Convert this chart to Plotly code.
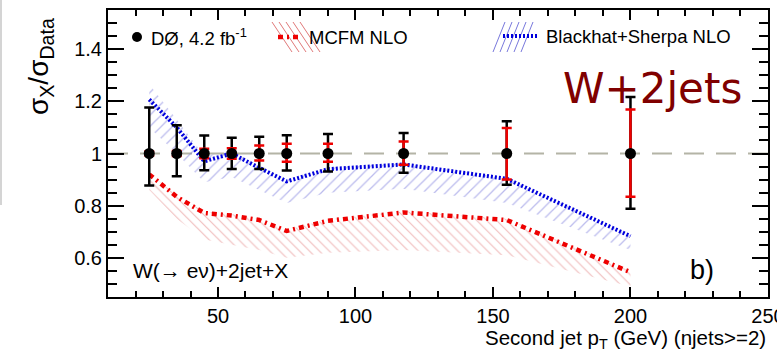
import plotly.graph_objects as go

# ---------------- data ----------------
pt = [25, 35, 45, 55, 65, 75, 90, 117.5, 155, 200]
data_ratio = [1, 1, 1, 1, 1, 1, 1, 1, 1, 1]
tot_up = [0.176, 0.108, 0.069, 0.060, 0.064, 0.070, 0.075, 0.079, 0.124, 0.217]
tot_dn = [0.123, 0.087, 0.064, 0.059, 0.059, 0.065, 0.069, 0.074, 0.120, 0.212]
stat_up = [0.008, 0.010, 0.018, 0.020, 0.031, 0.037, 0.037, 0.046, 0.098, 0.169]
stat_dn = [0.008, 0.010, 0.018, 0.020, 0.027, 0.032, 0.032, 0.043, 0.100, 0.166]

mcfm = [0.920, 0.834, 0.772, 0.762, 0.745, 0.703, 0.742, 0.774, 0.745, 0.545]
mcfm_hi = [0.925, 0.840, 0.778, 0.768, 0.750, 0.708, 0.747, 0.779, 0.750, 0.550]
mcfm_lo = [0.860, 0.750, 0.670, 0.650, 0.630, 0.600, 0.620, 0.630, 0.610, 0.490]

bh = [1.207, 1.100, 0.970, 1.000, 0.945, 0.893, 0.940, 0.958, 0.903, 0.683]
bh_hi = [1.265, 1.130, 0.990, 1.010, 0.955, 0.900, 0.945, 0.962, 0.906, 0.686]
bh_lo = [1.100, 1.000, 0.890, 0.910, 0.860, 0.810, 0.850, 0.865, 0.810, 0.630]

x_ticks = [50, 100, 150, 200, 250]
y_ticks = [0.6, 0.8, 1.0, 1.2, 1.4]
y_tick_text = ["0.6", "0.8", "1", "1.2", "1.4"]

# ---------------- layout geometry ----------------
W, H = 777, 358
ML, MR, MT, MB = 108, 9, 10, 61
PW, PH = W - ML - MR, H - MT - MB


def pxx(x):
    return (x - ML) / PW


def pxy(y):
    return (H - MB - y) / PH


FONT = "Liberation Sans, Arial, sans-serif"
RED_HATCH = "#e07878"
BLUE_HATCH = "#7878dc"

fig = go.Figure()

# bands
fig.add_trace(go.Scatter(x=pt, y=mcfm_lo, mode="lines", line=dict(width=0), showlegend=False, hoverinfo="skip"))
fig.add_trace(go.Scatter(x=pt, y=mcfm_hi, mode="lines", line=dict(width=0), fill="tonexty",
                         fillcolor="rgba(0,0,0,0)",
                         fillpattern=dict(shape="\\", fgcolor=RED_HATCH, bgcolor="rgba(0,0,0,0)",
                                          size=7, solidity=0.16),
                         showlegend=False, hoverinfo="skip"))
fig.add_trace(go.Scatter(x=pt, y=bh_lo, mode="lines", line=dict(width=0), showlegend=False, hoverinfo="skip"))
fig.add_trace(go.Scatter(x=pt, y=bh_hi, mode="lines", line=dict(width=0), fill="tonexty",
                         fillcolor="rgba(0,0,0,0)",
                         fillpattern=dict(shape="/", fgcolor=BLUE_HATCH, bgcolor="rgba(0,0,0,0)",
                                          size=8, solidity=0.16),
                         showlegend=False, hoverinfo="skip"))

# central lines
fig.add_trace(go.Scatter(x=pt, y=mcfm, mode="lines",
                         line=dict(color="#ee0000", width=4.5, dash="5px,4px,2px,4px"),
                         showlegend=False, hoverinfo="skip"))
fig.add_trace(go.Scatter(x=pt, y=bh, mode="lines",
                         line=dict(color="#0000dd", width=4, dash="2px,2px"),
                         showlegend=False, hoverinfo="skip"))

# data error bars
fig.add_trace(go.Scatter(x=pt, y=data_ratio, mode="markers", marker=dict(size=1, color="black"),
                         error_y=dict(type="data", symmetric=False, array=tot_up, arrayminus=tot_dn,
                                      color="black", thickness=2.5, width=5),
                         showlegend=False, hoverinfo="skip"))
fig.add_trace(go.Scatter(x=pt, y=data_ratio, mode="markers", marker=dict(size=1, color="#ee0000"),
                         error_y=dict(type="data", symmetric=False, array=stat_up, arrayminus=stat_dn,
                                      color="#ee0000", thickness=2.5, width=5),
                         showlegend=False, hoverinfo="skip"))
fig.add_trace(go.Scatter(x=pt, y=data_ratio, mode="markers", marker=dict(size=11, color="black"),
                         showlegend=False, hoverinfo="skip"))

shapes = []
# dashed unity line
shapes.append(dict(type="line", xref="paper", yref="y", x0=0, x1=1, y0=1, y1=1,
                   line=dict(color="#b4b4a6", width=2, dash="20px,12px"), layer="below"))
# gray artifact at left edge
shapes.append(dict(type="line", xref="paper", yref="paper", x0=pxx(1), x1=pxx(1), y0=pxy(0), y1=pxy(205),
                   line=dict(color="#d4d4d4", width=2)))

# legend: data dot
shapes.append(dict(type="circle", xref="paper", yref="paper", x0=pxx(132), x1=pxx(142), y0=pxy(32), y1=pxy(42),
                   fillcolor="black", line=dict(color="black", width=0)))
# legend: MCFM hatch + line
for i in range(5):
    x0 = 272 + i * 7
    shapes.append(dict(type="line", xref="paper", yref="paper", x0=pxx(x0), x1=pxx(x0 + 20),
                       y0=pxy(22), y1=pxy(52), line=dict(color=RED_HATCH, width=1)))
shapes.append(dict(type="line", xref="paper", yref="paper", x0=pxx(278), x1=pxx(298), y0=pxy(37), y1=pxy(37),
                   line=dict(color="#ee0000", width=4.5, dash="5px,4px,2px,4px")))
# legend: Blackhat hatch + line
for i in range(5):
    x0 = 505 + i * 7
    shapes.append(dict(type="line", xref="paper", yref="paper", x0=pxx(x0), x1=pxx(x0 - 12),
                       y0=pxy(22), y1=pxy(52), line=dict(color=BLUE_HATCH, width=1)))
shapes.append(dict(type="line", xref="paper", yref="paper", x0=pxx(503), x1=pxx(537), y0=pxy(36), y1=pxy(36),
                   line=dict(color="#0000dd", width=4, dash="2px,2px")))

annotations = []


def ann(text, x, y, size, xanchor="left", color="black", family=FONT, angle=0):
    annotations.append(dict(text=text, xref="paper", yref="paper", x=pxx(x), y=pxy(y), xanchor=xanchor,
                            yanchor="middle", showarrow=False, textangle=angle,
                            font=dict(size=size, color=color, family=family)))


ann("DØ, 4.2 fb<sup>-1</sup>", 149, 37, 18.5)
ann("MCFM NLO", 307, 37, 18.5)
ann("Blackhat+Sherpa NLO", 544, 36, 18.5)
ann("W+2jets", 561, 88, 42, color="#800000", family="DejaVu Sans, sans-serif")
ann("W(→ eν)+2jet+X", 131, 270, 21)
ann("b)", 688, 270, 27)
ann("Second jet p<sub>T</sub> (GeV) (njets>=2)", 768, 339, 20.5, xanchor="right")
annotations.append(dict(text="σ<sub>X</sub>/σ<sub>Data</sub>", xref="paper", yref="paper",
                        x=pxx(40), y=pxy(67), xanchor="center", yanchor="middle", showarrow=False,
                        textangle=-90, font=dict(size=28, color="black", family=FONT)))

fig.update_layout(
    width=W, height=H,
    margin=dict(l=ML, r=MR, t=MT, b=MB, autoexpand=False),
    paper_bgcolor="white", plot_bgcolor="white",
    shapes=shapes, annotations=annotations, showlegend=False,
    xaxis=dict(range=[10, 250.01], tickvals=x_ticks, ticktext=[str(v) for v in x_ticks],
               ticks="inside", ticklen=10, tickwidth=2, tickcolor="black",
               minor=dict(dtick=10, tick0=0, ticks="inside", ticklen=6, tickwidth=1.5, tickcolor="black"),
               showline=True, linecolor="black", linewidth=2, mirror="allticks",
               showgrid=False, zeroline=False, ticklabeloverflow="allow", automargin=False,
               tickfont=dict(family=FONT, size=20, color="black")),
    yaxis=dict(range=[0.45, 1.55], tickvals=y_ticks, ticktext=y_tick_text,
               ticks="inside", ticklen=16, tickwidth=2, tickcolor="black",
               minor=dict(dtick=0.05, tick0=0, ticks="inside", ticklen=9, tickwidth=1.5, tickcolor="black"),
               showline=True, linecolor="black", linewidth=2, mirror="allticks",
               showgrid=False, zeroline=False, automargin=False,
               tickfont=dict(family=FONT, size=20, color="black")),
)

fig.write_html("out.html")
